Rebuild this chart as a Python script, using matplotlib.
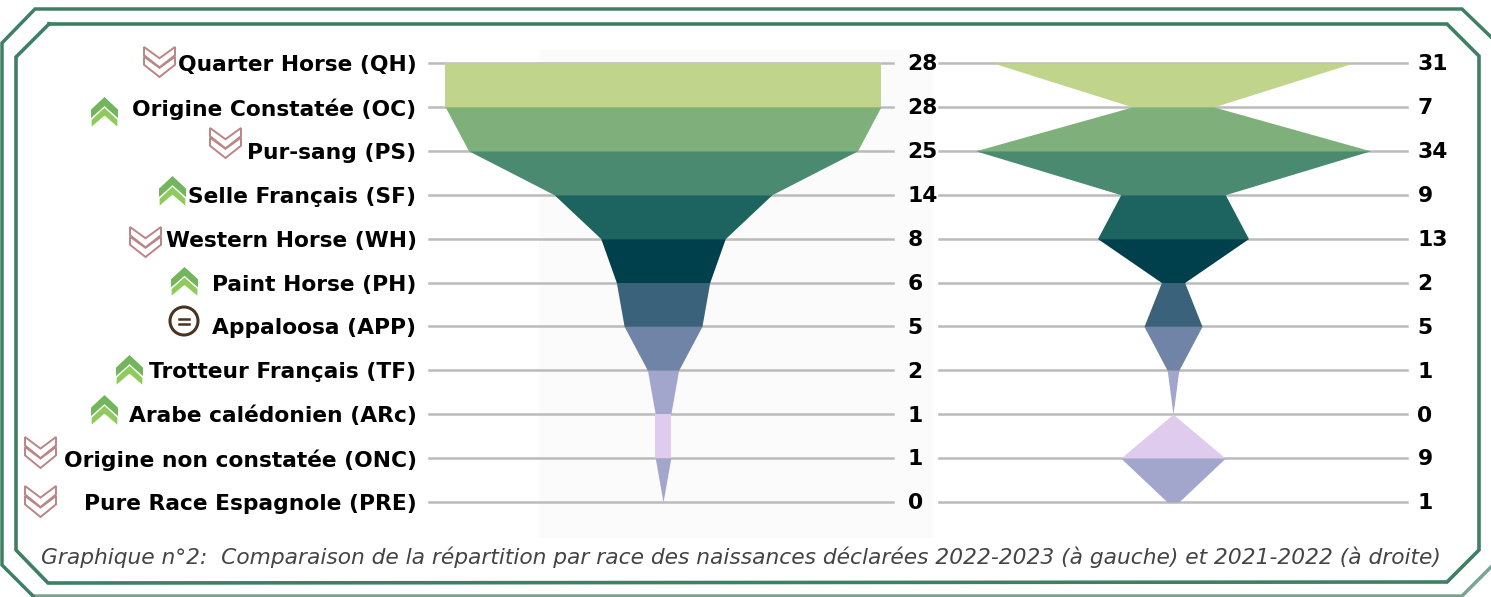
import matplotlib
matplotlib.use('Agg')
import matplotlib.pyplot as plt
from matplotlib.patches import Polygon, Circle, Rectangle

races = ['Quarter Horse (QH)', 'Origine Constatée (OC)', 'Pur-sang (PS)', 'Selle Français (SF)',
         'Western Horse (WH)', 'Paint Horse (PH)', 'Appaloosa (APP)', 'Trotteur Français (TF)',
         'Arabe calédonien (ARc)', 'Origine non constatée (ONC)', 'Pure Race Espagnole (PRE)']
births_2223 = [28, 28, 25, 14, 8, 6, 5, 2, 1, 1, 0]
births_2122 = [31, 7, 34, 9, 13, 2, 5, 1, 0, 9, 1]
band_colors = ['#c0d48c', '#7fb07c', '#4a8a70', '#1d6360', '#003f4c', '#3a627a',
               '#6f84a6', '#a3a6cc', '#dfcbed', '#a3a6cc']
trend = ['down', 'up', 'down', 'up', 'down', 'up', 'eq', 'up', 'up', 'down', 'down']
# icon boxes in pixels: left, right, top, bottom
icon_boxes = [(144, 175, 47, 77), (91, 118, 97, 128), (210, 241, 128, 158), (159, 186, 176, 207),
              (130, 161, 227, 257), (171, 198, 267, 297), (169, 199, 306, 336), (116, 143, 355, 386),
              (91, 118, 395, 426), (25, 56, 437, 468), (25, 56, 486, 517)]
caption = 'Graphique n°2:  Comparaison de la répartition par race des naissances déclarées 2022-2023 (à gauche) et 2021-2022 (à droite)'

W, H = 1491, 597
FONT = 'DejaVu Sans'
LABEL_SIZE = 15.7
GREEN = '#3f7f63'

fig = plt.figure(figsize=(W / 100, H / 100), dpi=100, facecolor='white')


def px_axes(left, right, top, bottom):
    return fig.add_axes([left / W, 1 - bottom / H, (right - left) / W, (bottom - top) / H])


# overlay in pixel units for frame and icons
bg = px_axes(0, W, 0, H)
bg.set_xlim(0, W)
bg.set_ylim(H, 0)
bg.axis('off')
bg.add_patch(Rectangle((539, 50), 394, 488, color='#fbfbfb', lw=0))

outer = [(1491, 37), (1462, 9), (35, 9), (2, 43), (2, 565), (33, 596), (1462, 596), (1491, 567)]
bg.plot(*zip(*outer[:6]), color=GREEN, lw=2.5, solid_joinstyle='miter')
bg.plot(*zip(*outer[5:]), color=GREEN, lw=2.5, alpha=0.7, solid_joinstyle='miter')
inner = [(49, 24), (1447, 24), (1479, 56), (1479, 550), (1447, 582), (48, 583), (16, 550), (16, 57), (49, 24)]
bg.plot(*zip(*inner), color=GREEN, lw=2.6, solid_joinstyle='miter')


def chevron(x0, x1, top, h, up):
    cx = (x0 + x1) / 2
    if up:
        return [(cx, top), (x1, top + 0.6 * h), (x1, top + h), (cx, top + 0.45 * h), (x0, top + h), (x0, top + 0.6 * h)]
    return [(cx, top + h), (x1, top + 0.4 * h), (x1, top), (cx, top + 0.55 * h), (x0, top), (x0, top + 0.4 * h)]


for kind, (x0, x1, y0, y1) in zip(trend, icon_boxes):
    h = y1 - y0
    if kind == 'eq':
        cx, cy = (x0 + x1) / 2, (y0 + y1) / 2
        bg.add_patch(Circle((cx, cy), 14, fc='white', ec='#4a3320', lw=2.2))
        bg.plot([cx - 5, cx + 5], [cy - 2.5, cy - 2.5], color='#4a3320', lw=1.8)
        bg.plot([cx - 5, cx + 5], [cy + 2.5, cy + 2.5], color='#4a3320', lw=1.8)
    elif kind == 'up':
        bg.add_patch(Polygon(chevron(x0, x1, y0, 0.68 * h, True), fc='#72b55c', ec='none'))
        bg.add_patch(Polygon(chevron(x0, x1, y0 + 0.32 * h, 0.68 * h, True), fc='#8fcb5c', ec='white', lw=0.9))
    else:
        bg.add_patch(Polygon(chevron(x0, x1, y0, 0.68 * h, False), fc='white', ec='#b98585', lw=1.4))
        bg.add_patch(Polygon(chevron(x0, x1, y0 + 0.32 * h, 0.68 * h, False), fc='white', ec='#b98585', lw=1.4))


def funnel(ax, values, x_limits, value_offset):
    rows = range(len(values))
    ax.set_xlim(*x_limits)
    ax.set_ylim(len(values) - 1, 0)
    ax.patch.set_alpha(0)
    for s in ax.spines.values():
        s.set_visible(False)
    ax.set_xticks([])
    ax.set_yticks(list(rows))
    ax.grid(True, axis='y', color='#bbbbbb', lw=1.8, zorder=0)
    for gl in ax.get_ygridlines():
        gl.set_clip_on(False)
    ax.set_axisbelow(True)
    ax.tick_params(axis='y', length=0)
    for i, color in enumerate(band_colors):
        ax.fill_betweenx([i, i + 1], [-values[i], -values[i + 1]], [values[i], values[i + 1]],
                         color=color, lw=0, zorder=2)
    for i, v in zip(rows, values):
        ax.annotate(str(v), xy=(1, i), xycoords=('axes fraction', 'data'), xytext=(value_offset, -1),
                    textcoords='offset points', va='center', ha='left',
                    fontsize=LABEL_SIZE, fontweight='bold', family=FONT, color='black', annotation_clip=False)


left = px_axes(429, 893, 63, 502)
funnel(left, births_2223, (-30.08, 29.56), 10.5)
left.set_yticklabels(races, fontsize=LABEL_SIZE, fontweight='bold', family=FONT, color='black')
left.tick_params(axis='y', pad=9)

right = px_axes(939, 1407, 63, 502)
funnel(right, births_2122, (-40.3, 40.3), 7.5)
right.set_yticklabels([])

fig.text(741 / W, 1 - 557 / H, caption, ha='center', va='center', fontsize=15.7,
         style='italic', family=FONT, color='#444444')

fig.savefig('out.png', dpi=100)
